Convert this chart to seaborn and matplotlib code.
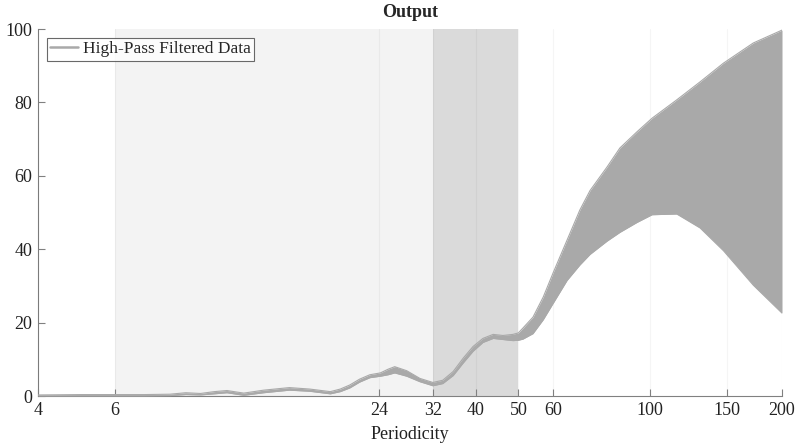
import numpy as np
import pandas as pd
import seaborn as sns
import matplotlib.pyplot as plt

# band of the high-pass filtered spectrum
period = [4, 5, 6, 7, 8, 8.7, 9.4, 10.1, 10.8, 11.8, 13.1, 15, 16.7, 18.6, 19.6,
          20.6, 21.7, 22.9, 24.2, 25.2, 26.1, 27.8, 29.8, 31.9, 33.6, 35.5, 37.4,
          39.4, 41.5, 43.8, 46.1, 48.6, 50, 51.2, 54, 57, 60, 64.6, 69.1, 72.9,
          79.7, 85.3, 93.3, 101, 115, 130, 147, 172, 200]
upper = [0.3, 0.4, 0.4, 0.4, 0.5, 0.9, 0.7, 1.2, 1.5, 0.8, 1.6, 2.3, 1.9, 1.2, 1.9,
         3.0, 4.6, 5.8, 6.3, 7.3, 8.0, 6.9, 4.8, 3.7, 4.3, 6.7, 10.3,
         13.5, 15.7, 16.8, 16.5, 16.8, 17.2, 18.5, 21.5, 27.0, 33.5, 42.5, 50.7, 56.0,
         62.4, 67.6, 72.0, 75.7, 80.7, 85.6, 90.7, 96.2, 99.7]
lower = [0.0, 0.0, 0.0, 0.0, 0.1, 0.4, 0.3, 0.6, 0.9, 0.2, 0.9, 1.6, 1.3, 0.6, 1.2,
         2.2, 3.8, 5.0, 5.4, 5.8, 6.3, 5.4, 3.9, 2.8, 3.4, 5.6, 9.0,
         12.2, 14.6, 15.7, 15.4, 15.1, 15.2, 15.5, 17.0, 20.8, 25.2, 31.5, 35.7, 38.6,
         42.2, 44.6, 47.3, 49.4, 49.6, 45.8, 39.6, 30.2, 22.6]

xticks = [4, 6, 24, 32, 40, 50, 60, 100, 150, 200]
yticks = [0, 20, 40, 60, 80, 100]

df = pd.DataFrame({"Periodicity": period, "upper": upper, "lower": lower})

sns.set_theme(style="white")
plt.rcParams['font.family'] = ['Liberation Serif', 'DejaVu Serif']

fig = plt.figure(figsize=(8, 4.43), dpi=100)
ax = fig.add_axes([0.0475, 0.106, 0.93, 0.8285])

band = "#a9a9a9"
ax.axvspan(6, 32, color="#f3f3f3", lw=0, zorder=1)
ax.axvspan(32, 50, color="#dadada", lw=0, zorder=1)

ax.fill_between(df["Periodicity"], df["lower"], df["upper"], color=band, lw=0, zorder=3)
sns.lineplot(data=df, x="Periodicity", y="upper", color=band, lw=0.8, ax=ax, zorder=3)
sns.lineplot(data=df, x="Periodicity", y="lower", color=band, lw=0.8, ax=ax, zorder=3,
             label="High-Pass Filtered Data")

ax.set_xscale("log")
ax.set_xlim(4, 200)
ax.set_ylim(0, 100)
ax.set_xticks(xticks)
ax.set_xticklabels([str(t) for t in xticks])
ax.minorticks_off()
ax.set_yticks(yticks)

ax.set_axisbelow(False)
ax.grid(axis="x", color="k", alpha=0.045, lw=0.8)
ax.grid(axis="y", visible=False)

for s in ["top", "right"]:
    ax.spines[s].set_visible(False)
for s in ["left", "bottom"]:
    ax.spines[s].set_color("#808080")
    ax.spines[s].set_linewidth(0.8)

ax.tick_params(direction="in", length=5, width=0.8, color="#808080",
               labelsize=13, labelcolor="#222222", bottom=True, left=True, pad=4)

ax.set_xlabel("Periodicity", fontsize=13, color="#222222", labelpad=5)
ax.set_ylabel("")
ax.set_title("Output", fontsize=13, fontweight="bold", pad=9)

leg = ax.legend(loc="upper left", fontsize=12.5, frameon=True, fancybox=False,
                handlelength=1.6, handletextpad=0.3, borderpad=0.2, borderaxespad=0.5)
leg.get_frame().set_edgecolor("#444444")
leg.get_frame().set_linewidth(0.8)
for line in leg.get_lines():
    line.set_linewidth(1.8)

fig.savefig("out.png", dpi=100)
